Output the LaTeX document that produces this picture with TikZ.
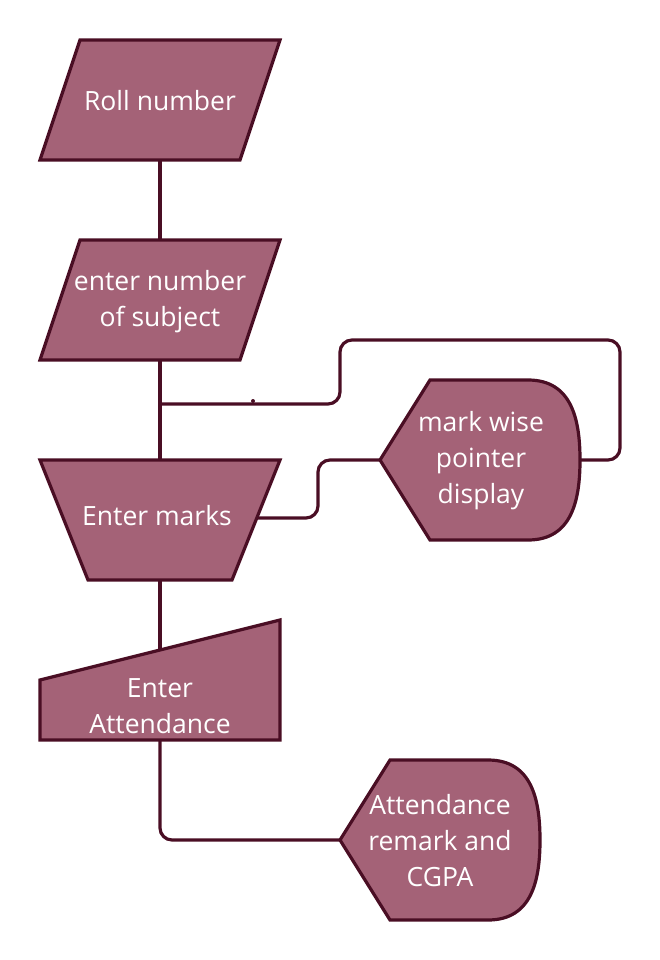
\documentclass[tikz,border=0pt]{standalone}
\usepackage{fontspec}
\setmainfont{Open Sans}
\definecolor{shfill}{HTML}{A46277}
\definecolor{shline}{HTML}{4A0E24}
\begin{document}
\begin{tikzpicture}[x=1pt,y=-1pt,
  shapebox/.style={draw=shline,fill=shfill,line width=3.2pt,line join=miter},
  conn/.style={draw=shline,line width=3.2pt,rounded corners=12pt},
  lbl/.style={text=white,align=center,font=\fontsize{26.5}{36}\selectfont,inner sep=0pt}]
\useasboundingbox (0,0) rectangle (660,960);
% shapes
\draw[shapebox] (80,40) -- (280,40) -- (240,160) -- (40,160) -- cycle;
\node[lbl] (roll) at (160,101) {Roll number};
\coordinate (roll-s) at (160,160);
\draw[shapebox] (80,240) -- (280,240) -- (240,360) -- (40,360) -- cycle;
\node[lbl] (subj) at (160,302) {enter number\\of subject};
\coordinate (subj-n) at (160,240);
\coordinate (subj-s) at (160,360);
\draw[shapebox] (40,460) -- (280,460) -- (232,580) -- (88,580) -- cycle;
\node[lbl] (marks) at (157,516) {Enter marks};
\coordinate (marks-n) at (160,460);
\coordinate (marks-e) at (258,518);
\coordinate (marks-s) at (160,580);
\draw[shapebox] (40,680) -- (280,620) -- (280,740) -- (40,740) -- cycle;
\node[lbl] (att) at (160,706) {Enter\\Attendance};
\coordinate (att-n) at (160,650);
\coordinate (att-s) at (160,740);
\draw[shapebox] (380,460) -- (430,380) -- (528,380) .. controls (572,380) and (580,420) .. (580,460) .. controls (580,500) and (572,540) .. (528,540) -- (430,540) -- cycle;
\node[lbl] (disp) at (481,461) {mark wise\\pointer\\display};
\coordinate (disp-w) at (380,460);
\coordinate (disp-e) at (580,460);
\draw[shapebox] (340,840) -- (390,760) -- (488,760) .. controls (532,760) and (540,800) .. (540,840) .. controls (540,880) and (532,920) .. (488,920) -- (390,920) -- cycle;
\node[lbl] (res) at (440,841) {Attendance\\remark and\\CGPA};
\coordinate (res-w) at (340,840);
% connectors
\coordinate (join) at (160,404);
\draw[conn] (roll-s) -- (subj-n);
\draw[conn] (subj-s) -- (marks-n);
\draw[conn] (marks-e) -- (318,518) -- (318,460) -- (disp-w);
\draw[conn] (disp-e) -- (620,460) -- (620,340) -- (340,340) -- (340,404) -- (join);
\draw[conn] (marks-s) -- (att-n);
\draw[conn] (att-s) -- (160,840) -- (res-w);
\fill[shline] (253,401) circle (2pt);
\end{tikzpicture}
\end{document}
